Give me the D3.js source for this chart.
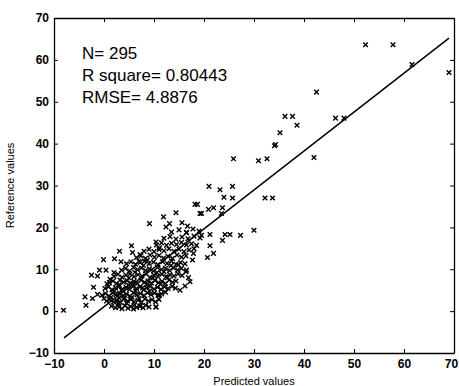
<!DOCTYPE html>
<html>
<head>
<meta charset="utf-8">
<script src="https://cdn.jsdelivr.net/npm/d3@7"></script>
<style>
  body { margin: 0; background: #fff; }
  text { font-family: "Liberation Sans", Arial, sans-serif; }
</style>
</head>
<body>
<div id="chart"></div>
<script>
// predicted / reference pairs
var outliers = [
  [52.3,63.6],[57.8,63.6],[61.6,58.9],[69,57],[42.5,52.3],[36.2,46.5],[37.7,46.5],[38.6,44.4],
  [46.3,46.1],[48,46.1],[35.2,42.6],[34.1,39.5],[34.3,39.8],[25.9,36.4],[30.9,35.9],[32.6,36.4],[42,36.7],
  [21,29.8],[23.2,29],[25.7,29.8],[24,27.2],[25.7,27],[32.2,27],[33.7,27],[19.5,23.3],[20.9,24.3],
  [21.9,24.7],[23.7,24.7],[23.5,23.3],[19.5,18.1],[21.2,18.3],[24.2,18.3],[25.2,18.3],[27.3,18.1],
  [30,19.3],[23.7,16.9],[21.2,15.6],[21.9,13.8],[20.7,12.8],[18.2,25.5],[18.7,25.5],[19.2,23.3],
  [-8.1,0.2],[-3.8,3.4],[-3.6,1.4],[-2.3,3.0],[-1.3,4.0],[-2.1,5.7],[-2.5,8.6],[-1.3,8.4],[-0.9,9.8],
  [0.4,9.8],[-0.1,12.3],[2.1,12.5],[3.4,11.8],[3.1,14.3],[5.5,15.6],[5.7,14],[7.2,13.5],[7,11.9],
  [9.1,20.9],[10.4,16.5],[11.1,15.1],[11.9,22.5],[12.4,20.1],[13.1,20.9],[14.4,23.5],[15.6,21.1],
  [16.5,18.8],[16.7,20.3],[16.9,8],[17.2,7],[16.5,9.8],[16.2,6],[15.2,5],[11.1,3.8],[10.4,1.0],
  [7.2,1.2],[14.9,11],[17.7,12.2],[17.9,13.8],[16.4,9.4]
];

var cluster = [
  [1.5,1.2],[2.3,0.8],[3.0,1.0],[3.6,0.6],[4.2,1.3],[4.8,0.7],[5.3,1.1],[5.9,0.5],[6.5,0.9],[7.2,1.2],
  [7.8,0.8],[8.4,1.4],[9.0,1.0],[10.4,1.0],[2.8,1.6],[4.5,1.9],[6.1,1.5],
  [0.5,2.4],[1.2,2.8],[1.9,2.2],[2.6,2.6],[3.3,2.1],[4.0,2.9],[4.7,2.4],[5.4,2.8],[6.0,2.2],[6.8,2.6],
  [7.5,2.1],[8.2,2.9],[8.9,2.4],[9.6,2.7],[10.3,2.2],[11.0,2.8],[0.0,3.0],[3.0,3.2],
  [-0.4,3.8],[0.3,4.2],[1.0,3.6],[1.7,4.4],[2.4,3.9],[3.1,4.3],[3.8,3.7],[4.5,4.1],[5.2,3.6],[5.9,4.4],
  [6.6,3.9],[7.3,4.2],[8.0,3.7],[8.7,4.4],[9.4,3.9],[10.1,4.3],[10.8,3.8],[11.5,4.1],[12.3,4.5],
  [0.2,5.4],[0.9,5.8],[1.6,5.1],[2.3,5.6],[3.0,5.9],[3.7,5.3],[4.4,5.7],[5.1,5.2],[5.8,5.9],[6.5,5.4],
  [7.2,5.8],[7.9,5.1],[8.6,5.6],[9.3,5.9],[10.0,5.3],[10.7,5.7],[11.4,5.2],[12.1,5.8],[12.8,5.4],[13.6,5.9],[14.3,5.5],
  [1.1,6.8],[1.8,7.2],[2.5,6.6],[3.2,7.4],[3.9,6.9],[4.6,7.3],[5.3,6.7],[6.0,7.1],[6.7,6.6],[7.4,7.4],
  [8.1,6.9],[8.8,7.2],[9.5,6.7],[10.2,7.3],[10.9,6.8],[11.6,7.1],[12.3,6.6],[13.0,7.4],[13.7,6.9],[14.4,7.2],
  [2.0,8.3],[2.8,8.8],[3.6,8.1],[4.4,8.6],[5.2,8.9],[6.0,8.2],[6.8,8.7],[7.6,8.4],[8.4,8.9],[9.2,8.1],
  [10.0,8.6],[10.8,8.3],[11.6,8.8],[12.4,8.2],[13.2,8.7],[14.0,8.4],[14.8,8.9],[15.6,8.5],
  [3.5,9.8],[4.3,10.2],[5.1,9.6],[5.9,10.4],[6.7,9.9],[7.5,10.3],[8.3,9.7],[9.1,10.1],[9.9,9.6],[10.7,10.4],
  [11.5,9.9],[12.3,10.2],[13.1,9.7],[13.9,10.3],[14.7,9.8],[15.5,10.2],
  [4.5,11.3],[5.4,11.8],[6.3,11.2],[7.2,11.6],[8.1,11.9],[9.0,11.3],[9.9,11.7],[10.8,11.1],[11.7,11.8],
  [12.6,11.4],[13.5,11.9],[14.4,11.2],[15.3,11.6],[16.2,11.3],
  [6.5,12.8],[7.4,13.2],[8.3,12.6],[9.2,13.4],[10.1,12.9],[11.0,13.3],[11.9,12.7],[12.8,13.1],[13.7,12.6],
  [14.6,13.4],[15.5,12.9],[16.4,13.2],
  [8.0,14.3],[9.0,14.8],[10.0,14.2],[11.0,14.7],[12.0,14.4],[13.0,14.9],[14.0,14.3],[15.0,14.8],[16.0,14.2],
  [17.0,14.6],[18.0,14.9],
  [10.5,15.8],[11.5,16.3],[12.5,15.7],[13.5,16.2],[14.5,15.9],[15.5,16.4],[16.5,15.8],[17.5,16.1],[18.5,15.7],
  [12.0,17.4],[13.2,17.8],[14.4,17.2],[15.6,17.7],[16.8,17.3],[18.0,17.9],[19.2,17.5],
  [13.5,18.9],[15.0,19.4],[16.5,18.7],[17.8,19.6],[19.0,19.1],
  [1.4,3.3],[2.1,4.8],[2.9,1.9],[3.5,5.0],[4.1,3.1],[4.9,6.2],[5.6,3.3],[6.3,4.8],[7.0,3.0],[7.7,5.6],
  [8.5,6.3],[9.1,4.8],[9.8,7.9],[10.6,9.2],[11.3,6.4],[12.0,9.4],[12.7,8.0],[13.4,10.9],[6.2,9.3],
  [7.9,10.9],[8.7,12.2],[5.0,7.9],[3.0,6.3],[2.0,9.2],[1.2,7.6],[0.6,6.5]
];

var xTicks = [-10, 0, 10, 20, 30, 40, 50, 60, 70];
var yTicks = [-10, 0, 10, 20, 30, 40, 50, 60, 70];
var fitLine = [[-8, -6.4], [69, 65.2]];
var stats = ["N= 295", "R square= 0.80443", "RMSE= 4.8876"];

var margin = { top: 18, right: 5, bottom: 33, left: 54 },
  width = 459 - margin.left - margin.right,
  height = 386 - margin.top - margin.bottom;

var svg = d3.select("#chart")
  .append("svg")
  .attr("width", 459)
  .attr("height", 386)
  .append("g")
  .attr("transform", "translate(" + margin.left + "," + margin.top + ")");

var xScale = d3.scaleLinear().domain([-10, 70]).range([0, width]);
var yScale = d3.scaleLinear().domain([-10, 70]).range([height, 0]);

function styleAxis(g, showText) {
  g.select(".domain").attr("stroke", "#000").attr("stroke-width", 1.3);
  g.selectAll(".tick line").attr("stroke", "#000");
  g.selectAll(".tick text")
    .attr("fill", "#000")
    .style("font-size", "12px")
    .style("font-weight", "bold")
    .style("font-family", "'Liberation Sans', Arial, sans-serif");
  if (!showText) g.selectAll(".tick text").remove();
}

var xAxisG = svg.append("g")
  .attr("transform", "translate(0," + height + ")")
  .call(d3.axisBottom(xScale).tickValues(xTicks).tickSizeInner(-4).tickSizeOuter(0).tickPadding(6))
  .call(styleAxis, true);
// last label sits at the window edge; nudge it in so it is not clipped
xAxisG.selectAll(".tick text").filter(function (d) { return d === 70; }).attr("dx", -3);

svg.append("g")
  .call(d3.axisTop(xScale).tickValues(xTicks).tickSizeInner(-4).tickSizeOuter(0))
  .call(styleAxis, false);

svg.append("g")
  .call(d3.axisLeft(yScale).tickValues(yTicks).tickSizeInner(-4).tickSizeOuter(0).tickPadding(5))
  .call(styleAxis, true);

svg.append("g")
  .attr("transform", "translate(" + width + ",0)")
  .call(d3.axisRight(yScale).tickValues(yTicks).tickSizeInner(-4).tickSizeOuter(0))
  .call(styleAxis, false);

var pts = outliers.concat(cluster);
var s = 2.3;
svg.append("g").selectAll("path")
  .data(pts)
  .enter()
  .append("path")
  .attr("d", function (d) {
    var cx = xScale(d[0]), cy = yScale(d[1]);
    return "M" + (cx - s) + "," + (cy - s) + "L" + (cx + s) + "," + (cy + s) +
      "M" + (cx - s) + "," + (cy + s) + "L" + (cx + s) + "," + (cy - s);
  })
  .attr("stroke", "#000")
  .attr("stroke-width", 1.4)
  .attr("fill", "none");

svg.append("path")
  .datum(fitLine)
  .attr("d", d3.line().x(function (d) { return xScale(d[0]); }).y(function (d) { return yScale(d[1]); }))
  .attr("stroke", "#000")
  .attr("stroke-width", 1.5)
  .attr("fill", "none");

svg.append("g").selectAll("text")
  .data(stats)
  .enter()
  .append("text")
  .attr("x", 28)
  .attr("y", function (d, i) { return 41 + i * 22; })
  .style("font-size", "17px")
  .attr("fill", "#000")
  .text(function (d) { return d; });

svg.append("text")
  .attr("x", width / 2)
  .attr("y", height + 32)
  .attr("text-anchor", "middle")
  .attr("fill", "#000")
  .style("font-size", "11px")
  .text("Predicted values");

svg.append("text")
  .attr("transform", "translate(-40," + (height / 2) + ") rotate(-90)")
  .attr("text-anchor", "middle")
  .attr("fill", "#000")
  .style("font-size", "11px")
  .text("Reference values");
</script>
</body>
</html>
